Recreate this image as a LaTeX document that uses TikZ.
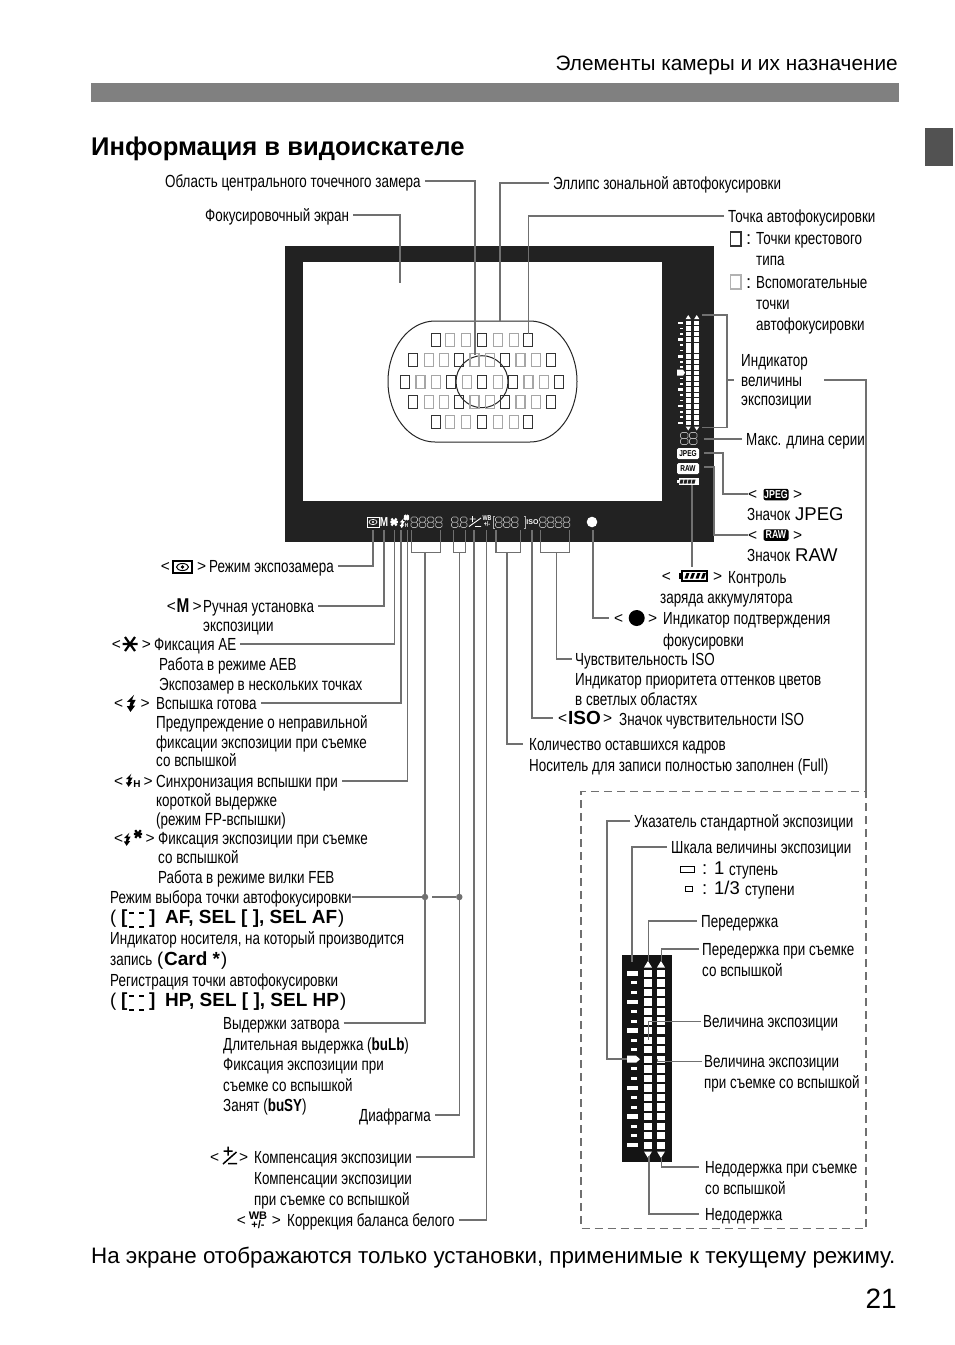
\documentclass[tikz,border=0pt]{standalone}
\usepackage{fontspec}
\usepackage{xcolor}
\setmainfont{Liberation Sans}
\newfontfamily\narrowf{Liberation Sans}[FakeStretch=0.767]
\usetikzlibrary{calc, positioning}

\definecolor{leadgray}{HTML}{707070}
\definecolor{framedark}{HTML}{222222}

\tikzset{
    lbl/.style={anchor=west, inner sep=0pt, text height=14pt, text depth=2pt, font=\narrowf\fontsize{17.5}{20}\selectfont},
    wide/.style={anchor=west, inner sep=0pt, text height=14pt, text depth=2pt, font=\fontsize{18.5}{22}\selectfont},
    ang/.style={anchor=west, inner sep=0pt, text height=12pt, text depth=2pt, font=\fontsize{15.5}{18}\selectfont},
    bld/.style={anchor=west, inner sep=0pt, text height=14pt, text depth=2pt, font=\bfseries\fontsize{19}{22}\selectfont},
    lcdw/.style={inner sep=0pt, text=white, font=\narrowf\bfseries\fontsize{9}{9}\selectfont},
    lead/.style={draw=leadgray, line width=1.5pt},
    leadn/.style={lead, shorten <=4pt},
    leaddot/.style={circle, fill=leadgray, inner sep=0pt, minimum size=6.5pt},
    afdark/.style={draw=black!80, line width=1.2pt},
    aflight/.style={draw=black!35, line width=1.2pt},
    lcd/.style={draw=black!30, line width=.6pt, rounded corners=1.5pt},
    pics/bolt/.style={code={
        \fill[pic actions] (3,-8) -- (-4,-1) -- (-.5,-1) -- (-1.5,3) -- (-4,3) -- (-.5,8.5) -- (4,2.5) -- (1.5,2.5) -- (4.5,-3) -- (1,-3) -- cycle;
    }},
    pics/aestar/.style={code={
        \draw[pic actions, line width=2.2pt] (-7.5,0) -- (7.5,0) (-5,-7) -- (5,7) (5,-7) -- (-5,7);
    }},
}

\begin{document}
\begin{tikzpicture}[x=1pt, y=-1pt]
    \useasboundingbox (0,0) rectangle (954,1345);

    % =================================================================
    % 1. PAGE HEADER AND FOOTER
    % =================================================================
    \node[inner sep=0pt, anchor=east, font=\fontsize{20.8}{24}\selectfont] (hdTitle) at (898,65) {Элементы камеры и их назначение};
    \fill[black!50] (91,83) rectangle (899,102);
    \fill[black!68] (925,128) rectangle (953,166);
    \node[inner sep=0pt, anchor=west, font=\bfseries\fontsize{25.6}{28}\selectfont] (hdSection) at (91,149) {Информация в видоискателе};
    \node[inner sep=0pt, anchor=west, font=\fontsize{22.36}{26}\selectfont] (ftNote) at (91,1258) {На экране отображаются только установки, применимые к текущему режиму.};
    \node[inner sep=0pt, anchor=east, font=\fontsize{28}{32}\selectfont] (ftPage) at (897,1299) {21};

    % =================================================================
    % 2. VIEWFINDER FRAME, OVAL AND AF POINTS
    % =================================================================
    \fill[framedark] (285,246) rectangle (714,542);
    \fill[white] (303,262) rectangle (662,501);

    % Zone AF ellipse and spot circle
    \draw[black!85, line width=1pt] (435,321) -- (530,321) .. controls (556,321) and (577,348) .. (577,381.5) .. controls (577,415) and (556,442) .. (530,442) -- (435,442) .. controls (409,442) and (388,415) .. (388,381.5) .. controls (388,348) and (409,321) .. (435,321) -- cycle;
    \draw[black!85, line width=1pt] (482,381.7) circle (26);

    % AF points: cross type
    \foreach \y in {340,422} \foreach \x in {435.7,481.7,528.3}
        \draw[afdark] (\x-4.5,\y-6.5) rectangle +(9,13);
    \foreach \y in {360,402} \foreach \x in {413.3,459.2,505.1,551}
        \draw[afdark] (\x-4.5,\y-6.5) rectangle +(9,13);
    \foreach \x in {405,451.3,482.2,513,559.3}
        \draw[afdark] (\x-4.5,375.2) rectangle +(9,13);

    % AF points: auxiliary
    \foreach \y in {340,422} \foreach \x in {450.3,466.3,497.7,513.7}
        \draw[aflight] (\x-4.5,\y-6.5) rectangle +(9,13);
    \foreach \y in {360,402} \foreach \x in {428.6,443.9,474.5,489.8,520.4,535.7}
        \draw[aflight] (\x-4.5,\y-6.5) rectangle +(9,13);
    \foreach \x in {420.4,435.9,466.7,497.6,528.4,543.9}
        \draw[aflight] (\x-4.5,375.2) rectangle +(9,13);

    % =================================================================
    % 3. VIEWFINDER READOUTS (BOTTOM AND RIGHT)
    % =================================================================
    % Metering icon
    \draw[white, line width=.9pt] (367,517) rectangle (379,527);
    \draw[white, line width=.7pt] (373,522) ellipse (4 and 2.6);
    \fill[white] (373,522) circle (1.2);
    \node[lcdw, font=\narrowf\bfseries\fontsize{13}{13}\selectfont] (vfM) at (384,522) {M};
    \pic[white, scale=.5] at (394,522) {aestar};
    \pic[white, scale=.6] at (402,523) {bolt};
    \pic[white, scale=.35] at (406.5,517.5) {aestar};
    \node[lcdw, font=\narrowf\bfseries\fontsize{6}{6}\selectfont] (vfH) at (406.5,525) {H};

    % Seven segment digits
    \foreach \x in {411,419.2,427.4,435.6,451.5,460.5,495.5,503.5,511.5,539.5,547.4,555.3,563.2}
        \draw[lcd] (\x,517) rectangle +(6.5,5.2) (\x,522.2) rectangle +(6.5,5.3);
    \fill[black!30] (459.3,526.5) circle (.7);

    % Compensation and white balance
    \draw[white, line width=.9pt] (469,526.5) -- (481,518) (472.5,516) -- (472.5,522) (469.5,519) -- (475.5,519) (475,526.5) -- (481,526.5);
    \node[lcdw, align=center, font=\narrowf\bfseries\fontsize{7}{6}\selectfont] (vfWB) at (487,521.5) {WB\\+/-};
    \draw[draw=black!30, line width=.6pt] (494.5,516.5) -- (493,516.5) -- (493,528) -- (494.5,528);
    \draw[draw=black!30, line width=.6pt] (524,516.5) -- (525.5,516.5) -- (525.5,528) -- (524,528);
    \node[lcdw, font=\bfseries\fontsize{7}{7}\selectfont] (vfISO) at (532.5,522.5) {ISO};
    \fill[white] (592,522) circle (5.3);

    % Exposure indicator: ticks, two columns, triangles
    \foreach \i in {0,3,...,18}
        \fill[white] (677.5,321.7+\i*5.55) rectangle (683,324.2+\i*5.55);
    \foreach \i in {1,2,4,5,7,8,10,11,13,14,16,17}
        \fill[white] (680,322+\i*5.55) rectangle (683,323.7+\i*5.55);
    \fill[white] (677,369.7) -- (683,369.7) -- (685,372.7) -- (683,375.7) -- (677,375.7) -- cycle;
    \foreach \x in {685.7,694.2} {
        \foreach \i in {0,...,18}
            \fill[white] (\x,320.7+\i*5.55) rectangle +(5.1,4.6);
        \fill[white] (\x,319) -- +(2.55,-4) -- +(5.1,0) -- cycle;
        \fill[white] (\x,426.5) -- +(2.55,4) -- +(5.1,0) -- cycle;
    }

    % Shots remaining, JPEG, RAW, battery
    \foreach \x in {680.5,689.5}
        \draw[lcd] (\x,432.5) rectangle +(7.5,6) (\x,438.5) rectangle +(7.5,6);
    \node[fill=white, rounded corners=1.5pt, inner sep=0pt, minimum width=22pt, minimum height=11pt, font=\narrowf\bfseries\fontsize{8.5}{9}\selectfont] (vfJPEG) at (688,453.5) {JPEG};
    \node[fill=white, rounded corners=1.5pt, inner sep=0pt, minimum width=22pt, minimum height=11pt, font=\narrowf\bfseries\fontsize{8.5}{9}\selectfont] (vfRAW) at (688,468.5) {RAW};
    \fill[white] (678.5,478) rectangle (699,485);
    \fill[white] (677,480) rectangle (679,483);
    \foreach \x in {680.5,684.5,688.5,692.5}
        \fill[framedark] (\x,479.5) -- ++(3,0) -- ++(-1,4) -- ++(-3,0) -- cycle;

    % =================================================================
    % 4. LABELS ABOVE AND RIGHT OF THE FRAME
    % =================================================================
    \node[lbl] (lbSpot) at (165,181) {Область центрального точечного замера};
    \node[lbl] (lbEllipse) at (553,183) {Эллипс зональной автофокусировки};
    \node[lbl] (lbScreen) at (205,215) {Фокусировочный экран};
    \node[lbl] (lbAFpoint) at (728,216) {Точка автофокусировки};
    \node[lbl] (lbCrossA) at (756,238) {Точки крестового};
    \node[lbl] (lbCrossB) at (756,259) {типа};
    \node[lbl] (lbAuxA) at (756,282) {Вспомогательные};
    \node[lbl] (lbAuxB) at (756,303) {точки};
    \node[lbl] (lbAuxC) at (756,324) {автофокусировки};
    \node[lbl] (lbIndA) at (741,360) {Индикатор};
    \node[lbl] (lbIndB) at (741,380) {величины};
    \node[lbl] (lbIndC) at (741,399) {экспозиции};
    \node[lbl] (lbBurst) at (746,439) {Макс. длина серии};

    % Legend of the AF point boxes
    \draw[black!80, line width=1.3pt] (730.5,232) rectangle (741,246);
    \node[wide] (lgCross) at (746,238) {:};
    \draw[black!30, line width=1.3pt] (730.5,275) rectangle (741,289);
    \node[wide] (lgAux) at (746,282) {:};

    % JPEG and RAW entries
    \node[ang] (lbJlt) at (748,494) {<};
    \node[fill=black, rounded corners=2pt, inner sep=0pt, minimum width=25pt, minimum height=11.5pt, text=white, font=\narrowf\bfseries\fontsize{11.5}{11}\selectfont] (icJPEG) at (776,494.5) {JPEG};
    \node[ang] (lbJgt) at (793,494) {>};
    \node[lbl] (lbJa) at (747,514) {Значок};
    \node[wide] (lbJb) at (795,514) {JPEG};
    \node[ang] (lbRlt) at (748,535) {<};
    \node[fill=black, rounded corners=2pt, inner sep=0pt, minimum width=25pt, minimum height=11.5pt, text=white, font=\narrowf\bfseries\fontsize{11.5}{11}\selectfont] (icRAW) at (776,535) {RAW};
    \node[ang] (lbRgt) at (793,535) {>};
    \node[lbl] (lbRa) at (747,555) {Значок};
    \node[wide] (lbRb) at (795,555) {RAW};

    % Battery entry
    \node[ang] (lbBlt) at (661.7,576) {<};
    \fill[black] (681,570) rectangle (708,581.5);
    \fill[black] (678.5,573) rectangle (681,578.5);
    \fill[white] (683,572) rectangle (706,579.5);
    \foreach \x in {684.5,690,695.5,701}
        \fill[black] (\x,578.5) -- ++(2,-5.5) -- ++(3,0) -- ++(-2,5.5) -- cycle;
    \node[ang] (lbBgt) at (713,576) {>};
    \node[lbl] (lbBatA) at (728,577) {Контроль};
    \node[lbl] (lbBatB) at (660,597) {заряда аккумулятора};

    % Focus confirmation entry
    \node[ang] (lbFlt) at (614,618) {<};
    \fill[black] (636.7,618) circle (8);
    \node[ang] (lbFgt) at (648,618) {>};
    \node[lbl] (lbFocA) at (663,618) {Индикатор подтверждения};
    \node[lbl] (lbFocB) at (663,640) {фокусировки};

    % ISO entries
    \node[lbl] (lbIsoA) at (575,659) {Чувствительность ISO};
    \node[lbl] (lbIsoB) at (575,679) {Индикатор приоритета оттенков цветов};
    \node[lbl] (lbIsoC) at (575,699) {в светлых областях};
    \node[ang] (lbIlt) at (558,718) {<};
    \node[inner sep=0pt, anchor=west, text height=14pt, text depth=2pt, font=\bfseries\fontsize{19}{22}\selectfont] (lbIso) at (568,718) {ISO};
    \node[ang] (lbIgt) at (603,718) {>};
    \node[lbl] (lbIsoD) at (619,719) {Значок чувствительности ISO};
    \node[lbl] (lbCountA) at (529,744) {Количество оставшихся кадров};
    \node[lbl] (lbCountB) at (529,765) {Носитель для записи полностью заполнен (Full)};

    % =================================================================
    % 5. LABELS TO THE LEFT OF THE READOUTS
    % =================================================================
    \node[ang] (lbMlt) at (160.7,566) {<};
    \draw[black, line width=1.4pt] (173,561) rectangle (192,573);
    \draw[black, line width=1pt] (182.5,567) ellipse (6 and 3.5);
    \fill[black] (182.5,567) circle (1.8);
    \node[ang] (lbMgt) at (197,566) {>};
    \node[lbl] (lbMeter) at (209,566) {Режим экспозамера};

    \node[ang] (lbManlt) at (166.7,606) {<};
    \node[inner sep=0pt, font=\narrowf\bfseries\fontsize{20}{22}\selectfont] (icMan) at (183,606) {M};
    \node[ang] (lbMangt) at (192.5,606) {>};
    \node[lbl] (lbManA) at (203,606) {Ручная установка};
    \node[lbl] (lbManB) at (203,625) {экспозиции};

    \node[ang] (lbAElt) at (111.7,644) {<};
    \pic at (130,644) {aestar};
    \node[ang] (lbAEgt) at (141.7,644) {>};
    \node[lbl] (lbAEa) at (154,644) {Фиксация AE};
    \node[lbl] (lbAEb) at (159,664) {Работа в режиме AEB};
    \node[lbl] (lbAEc) at (159,684) {Экспозамер в нескольких точках};

    \node[ang] (lbFllt) at (114,703) {<};
    \pic[scale=1.05] at (131,703) {bolt};
    \node[ang] (lbFlgt) at (140.5,703) {>};
    \node[lbl] (lbFlA) at (156,703) {Вспышка готова};
    \node[lbl] (lbFlB) at (156,722) {Предупреждение о неправильной};
    \node[lbl] (lbFlC) at (156,742) {фиксации экспозиции при съемке};
    \node[lbl] (lbFlD) at (156,760) {со вспышкой};

    \node[ang] (lbHlt) at (114,781) {<};
    \pic[scale=.8] at (129,780) {bolt};
    \node[inner sep=0pt, font=\bfseries\fontsize{10}{10}\selectfont] (icH) at (137,784) {H};
    \node[ang] (lbHgt) at (143.5,781) {>};
    \node[lbl] (lbHa) at (156,781) {Синхронизация вспышки при};
    \node[lbl] (lbHb) at (156,800) {короткой выдержке};
    \node[lbl] (lbHc) at (156,819) {(режим FP-вспышки)};

    \node[ang] (lbFElt) at (114,838) {<};
    \pic[scale=.8] at (127,839) {bolt};
    \pic[scale=.55] at (138,834) {aestar};
    \node[ang] (lbFEgt) at (145.5,838) {>};
    \node[lbl] (lbFEa) at (158,838) {Фиксация экспозиции при съемке};
    \node[lbl] (lbFEb) at (158,857) {со вспышкой};
    \node[lbl] (lbFEc) at (158,877) {Работа в режиме вилки FEB};

    \node[lbl] (lbMode) at (110,897) {Режим выбора точки автофокусировки};
    \node[wide] (lbAFa) at (110,917.5) {(};
    \node[bld] (lbAFb) at (121,917.5) {[};
    \draw[line width=1.4pt] (129,913) -- (134,913) (139,913) -- (144,913) (129,927) -- (134,927) (139,927) -- (144,927);
    \node[bld] (lbAFc) at (149,917.5) {]};
    \node[bld] (lbAFd) at (165,917.5) {AF, SEL [ ], SEL AF};
    \node[wide] (lbAFe) at (338,917.5) {)};
    \node[lbl] (lbCardA) at (110,938) {Индикатор носителя, на который производится};
    \node[lbl] (lbCardB) at (110,959) {запись};
    \node[wide] (lbCardC) at (157,959) {(};
    \node[bld] (lbCardD) at (164,959) {Card *};
    \node[wide] (lbCardE) at (221,959) {)};
    \node[lbl] (lbRegA) at (110,980) {Регистрация точки автофокусировки};
    \node[wide] (lbHPa) at (110,1000.5) {(};
    \node[bld] (lbHPb) at (121,1000.5) {[};
    \draw[line width=1.4pt] (129,996) -- (134,996) (139,996) -- (144,996) (129,1010) -- (134,1010) (139,1010) -- (144,1010);
    \node[bld] (lbHPc) at (149,1000.5) {]};
    \node[bld] (lbHPd) at (165,1000.5) {HP, SEL [ ], SEL HP};
    \node[wide] (lbHPe) at (340,1000.5) {)};

    \node[lbl] (lbShutA) at (223,1023) {Выдержки затвора};
    \node[lbl] (lbShutB) at (223,1044) {Длительная выдержка ({\bfseries buLb})};
    \node[lbl] (lbShutC) at (223,1064) {Фиксация экспозиции при};
    \node[lbl] (lbShutD) at (223,1085) {съемке со вспышкой};
    \node[lbl] (lbShutE) at (223,1105) {Занят ({\bfseries buSY})};
    \node[lbl] (lbAper) at (359,1115) {Диафрагма};

    \node[ang] (lbClt) at (210,1157) {<};
    \draw[black, line width=1.5pt] (223,1164) -- (236.5,1152) (228,1146.5) -- (228,1155.5) (223.5,1151) -- (232.5,1151) (228,1163.5) -- (237,1163.5);
    \node[ang] (lbCgt) at (239,1157) {>};
    \node[lbl] (lbCompA) at (254,1157) {Компенсация экспозиции};
    \node[lbl] (lbCompB) at (254,1178) {Компенсации экспозиции};
    \node[lbl] (lbCompC) at (254,1199) {при съемке со вспышкой};

    \node[ang] (lbWlt) at (236.7,1220) {<};
    \node[inner sep=0pt, align=center, font=\bfseries\fontsize{11}{9.5}\selectfont] (icWB) at (258,1220.5) {WB\\+/-};
    \node[ang] (lbWgt) at (271.7,1220) {>};
    \node[lbl] (lbWB) at (287,1220) {Коррекция баланса белого};

    % =================================================================
    % 6. LEADERS AND BRACKETS OF THE VIEWFINDER
    % =================================================================
    \coordinate (tgSpot) at (475,355);
    \coordinate (tgEllipse) at (500,321);
    \coordinate (tgScreen) at (400,283);
    \coordinate (tgAFpoint) at (528.5,334);
    \draw[leadn] (lbSpot.east) -| (tgSpot);
    \draw[lead, shorten <=4pt] (lbEllipse.west) -| (tgEllipse);
    \draw[leadn] (lbScreen.east) -| (tgScreen);
    \draw[lead, shorten <=4pt] (lbAFpoint.west) -| (tgAFpoint);

    % Exposure level indicator bracket
    \coordinate (brTop) at (702,315);
    \coordinate (brBot) at (702,427.5);
    \coordinate (brMid) at (727,380);
    \coordinate (brTick) at (734,380);
    \coordinate (brEye) at (866,380);
    \coordinate (brBox) at (866,797);
    \draw[lead] (brTop) -- ++(25,0) |- (brBot);
    \draw[lead] (brMid) -- (brTick);
    \draw[lead] (824,380) -- (brEye) -- (brBox);

    \coordinate (tgBurst) at (704,439);
    \coordinate (tgJPEG) at (704,453);
    \coordinate (tgRAW) at (704,467);
    \coordinate (tgBat) at (692,485);
    \draw[lead, shorten <=4pt] (lbBurst.west) -- (tgBurst);
    \draw[lead] (tgJPEG) -- ++(19,0) |- (lbJlt.west);
    \draw[lead] (tgRAW) -- ++(10,0) |- (lbRlt.west);
    \draw[lead] (tgBat) -- (692,566.5);

    % Readouts going to the right
    \coordinate (tgDot) at (593,530);
    \coordinate (tgIso) at (532,530);
    \coordinate (brIsoA) at (540.7,530);
    \coordinate (brIsoB) at (569.3,530);
    \coordinate (brIsoS) at (556.7,552.5);
    \coordinate (brCntA) at (496,530);
    \coordinate (brCntB) at (520.7,530);
    \coordinate (brCntS) at (507,552.5);
    \draw[lead, shorten >=5pt] (tgDot) |- (lbFlt.west);
    \draw[lead, shorten >=5pt] (tgIso) |- (lbIlt.west);
    \draw[lead] (brIsoA) |- (brIsoS) -| (brIsoB);
    \draw[lead, shorten >=3pt] (brIsoS) |- (lbIsoA.west);
    \draw[lead] (brCntA) |- (brCntS) -| (brCntB);
    \draw[lead, shorten >=6pt] (brCntS) |- (lbCountA.west);

    % Readouts going to the left
    \coordinate (tgMeter) at (373,530);
    \coordinate (tgMan) at (384,530);
    \coordinate (tgAE) at (394.3,530);
    \coordinate (tgFl) at (401,530);
    \coordinate (tgH) at (407.3,530);
    \coordinate (tgComp) at (474,530);
    \coordinate (tgWB) at (486.5,530);
    \coordinate (brSpA) at (411.7,530);
    \coordinate (brSpB) at (440.7,530);
    \coordinate (brSpS) at (425,552.5);
    \coordinate (brApA) at (453.3,530);
    \coordinate (brApB) at (465.7,530);
    \coordinate (brApS) at (459.3,552.5);
    \draw[leadn] (lbMeter.east) -| (tgMeter);
    \draw[leadn] (lbManA.east) -| (tgMan);
    \draw[leadn] (lbAEa.east) -| (tgAE);
    \draw[leadn] (lbFlA.east) -| (tgFl);
    \draw[leadn] (lbHa.east) -| (tgH);
    \draw[leadn] (lbCompA.east) -| (tgComp);
    \draw[leadn] (lbWB.east) -| (tgWB);
    \draw[lead] (brSpA) |- (brSpS) -| (brSpB);
    \draw[lead] (brApA) |- (brApS) -| (brApB);
    \draw[leadn] (lbShutA.east) -| (brSpS);
    \draw[leadn] (lbAper.east) -| (brApS);

    % Joint from the AF mode label to both number groups
    \node[leaddot] (dotShut) at (425,897) {};
    \node[leaddot] (dotAper) at (459.3,897) {};
    \draw[leadn] (lbMode.east) -- (dotShut) -- (dotAper);

    % =================================================================
    % 7. DASHED BOX WITH THE ENLARGED EXPOSURE SCALE
    % =================================================================
    \draw[lead, dash pattern=on 8pt off 5pt] (866,797) |- (581,791.5) |- (866,1228.5) -- (866,797);

    \node[lbl] (scStd) at (634,821) {Указатель стандартной экспозиции};
    \node[lbl] (scScale) at (671,847) {Шкала величины экспозиции};
    \draw[black, line width=1pt] (680,866) rectangle (694,872);
    \node[wide] (scOneC) at (702,868) {:};
    \node[wide] (scOneN) at (714,868) {1};
    \node[lbl] (scOneT) at (729,869) {ступень};
    \draw[black, line width=1pt] (685.5,886) rectangle (692.5,891);
    \node[wide] (scThirdC) at (702,888.5) {:};
    \node[wide] (scThirdN) at (714,888.5) {1/3};
    \node[lbl] (scThirdT) at (745,889) {ступени};
    \node[lbl] (scOver) at (701,921) {Передержка};
    \node[lbl] (scOverFA) at (702,949) {Передержка при съемке};
    \node[lbl] (scOverFB) at (702,970) {со вспышкой};
    \node[lbl] (scLevel) at (703,1021) {Величина экспозиции};
    \node[lbl] (scLevelFA) at (704,1061) {Величина экспозиции};
    \node[lbl] (scLevelFB) at (704,1082) {при съемке со вспышкой};
    \node[lbl] (scUnderFA) at (705,1167) {Недодержка при съемке};
    \node[lbl] (scUnderFB) at (705,1188) {со вспышкой};
    \node[lbl] (scUnder) at (705,1214) {Недодержка};

    % Scale body, ticks and pointer
    \fill[black!92] (622,955) rectangle (672,1162);
    \foreach \i in {0,3,...,18}
        \fill[white] (627,971.1+\i*9.55) rectangle (638,975.5+\i*9.55);
    \foreach \i in {1,2,4,5,7,8,10,11,13,14,16,17}
        \fill[white] (631,971.8+\i*9.55) rectangle (637,974.8+\i*9.55);
    \fill[white] (627,1055.7) -- (636,1055.7) -- (640,1059.2) -- (636,1062.7) -- (627,1062.7) -- cycle;

    % Two exposure columns with their triangles
    \foreach \x in {644,657} {
        \foreach \i in {0,...,18}
            \fill[white] (\x,969.7+\i*9.55) rectangle +(8,7.3);
        \fill[white] (\x,967.5) -- +(4,-6.5) -- +(8,0) -- cycle;
        \fill[white] (\x,1151.5) -- +(4,6.5) -- +(8,0) -- cycle;
    }

    % Leaders inside the dashed box
    \coordinate (scPtr) at (627,1059.2);
    \coordinate (scTop) at (632,962);
    \coordinate (scOvA) at (648.5,961);
    \coordinate (scOvB) at (661.5,961);
    \coordinate (scLvA) at (648,1040);
    \coordinate (scLvB) at (657,1059);
    \coordinate (scUnA) at (661.5,1157);
    \coordinate (scUnB) at (649,1156);
    \draw[leadn] (scStd.west) -- ++(-27,0) |- (scPtr);
    \draw[lead, shorten <=4pt] (scScale.west) -| (scTop);
    \draw[lead, shorten <=4pt] (scOver.west) -| (scOvA);
    \draw[lead, shorten <=3pt] (scOverFA.west) -| (scOvB);
    \draw[lead, shorten <=2pt, line width=1pt] (scLevel.west) -| (scLvA);
    \draw[lead, shorten <=2pt, line width=1pt] (scLevelFA.west) -| (scLvB);
    \draw[lead, shorten <=6pt] (scUnderFA.west) -| (scUnA);
    \draw[lead, shorten <=6pt] (scUnder.west) -| (scUnB);
\end{tikzpicture}
\end{document}
